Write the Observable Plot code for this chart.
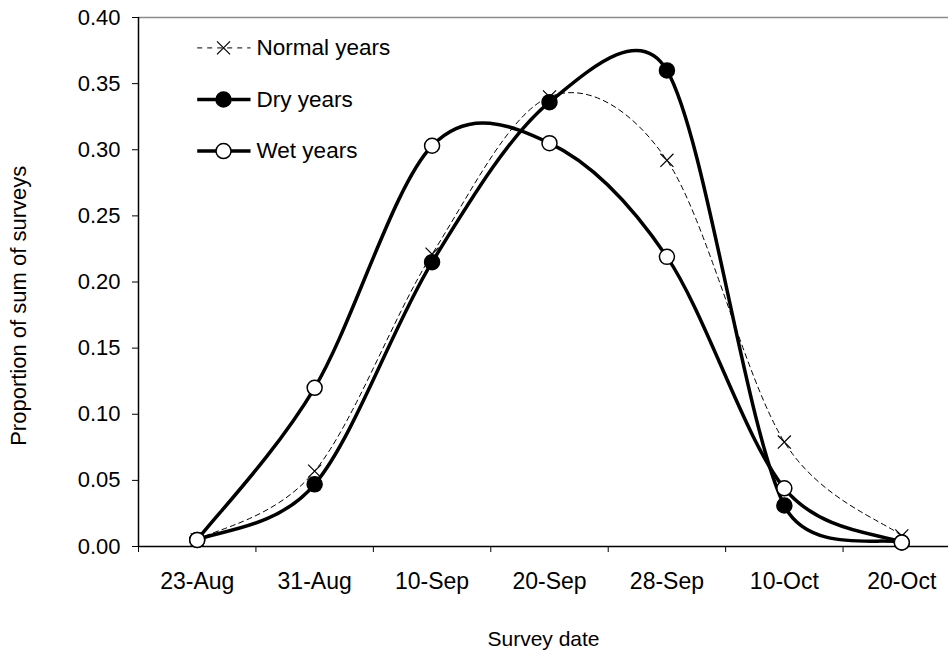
<!DOCTYPE html>
<html><head><meta charset="utf-8">
<script src="https://cdn.jsdelivr.net/npm/d3@7"></script>
<script src="https://cdn.jsdelivr.net/npm/@observablehq/plot@0.6"></script>
<style>body{margin:0;background:#fff}</style>
</head><body><div id="chart"></div>
<script>
const dates = ["23-Aug","31-Aug","10-Sep","20-Sep","28-Sep","10-Oct","20-Oct"];
const normal = [0.005, 0.057, 0.221, 0.340, 0.292, 0.079, 0.008];
const dry    = [0.005, 0.047, 0.215, 0.336, 0.360, 0.031, 0.003];
const wet    = [0.005, 0.120, 0.303, 0.305, 0.219, 0.044, 0.003];
const seriesNames = ["Normal years", "Dry years", "Wet years"];
const yTicks = [0, 0.05, 0.10, 0.15, 0.20, 0.25, 0.30, 0.35, 0.40];

const rows = (vals) => vals.map((v, i) => ({i, v}));
const nRows = rows(normal), dRows = rows(dry), wRows = rows(wet);

const FONT = "'Liberation Sans', Arial, Helvetica, sans-serif";
// legend / title layout (in axis units)
const lx0 = 0, lx1 = 0.454, lxm = 0.224, ltx = 0.505;
const ly = [0.377, 0.338, 0.299];
const c = (v) => () => v;

// Spreadsheet-style smoothed line: Catmull-Rom (chord/6) control points,
// with the control distance limited to a fraction of the segment length.
function SmoothCurve(context, k) { this._context = context; this._k = k; }
SmoothCurve.prototype = {
  areaStart() {}, areaEnd() {},
  lineStart() { this._pts = []; },
  point(x, y) { this._pts.push([+x, +y]); },
  lineEnd() {
    const p = this._pts, n = p.length, ctx = this._context, k = this._k;
    if (!n) return;
    ctx.moveTo(p[0][0], p[0][1]);
    if (n === 1) return;
    const t = p.map((_, i) => {
      const a = p[Math.max(i - 1, 0)], b = p[Math.min(i + 1, n - 1)];
      const dx = b[0] - a[0], dy = b[1] - a[1], L = Math.hypot(dx, dy) || 1;
      return [dx / L, dy / L, L / 6];
    });
    for (let i = 0; i < n - 1; i++) {
      const a = p[i], b = p[i + 1];
      const L = Math.hypot(b[0] - a[0], b[1] - a[1]);
      const d1 = Math.min(t[i][2], k * L), d2 = Math.min(t[i + 1][2], k * L);
      ctx.bezierCurveTo(
        a[0] + d1 * t[i][0], a[1] + d1 * t[i][1],
        b[0] - d2 * t[i + 1][0], b[1] - d2 * t[i + 1][1],
        b[0], b[1]);
    }
  }
};
const smooth = (context) => new SmoothCurve(context, 0.45);

const legendMarks = [
  Plot.link([0], {x1: c(lx0), x2: c(lx1), y1: c(ly[0]), y2: c(ly[0]), stroke: "black", strokeWidth: 1, strokeDasharray: "5,5"}),
  Plot.dot([0], {x: c(lxm), y: c(ly[0]), symbol: "times", r: 6, stroke: "black", strokeWidth: 1.2}),
  Plot.link([0], {x1: c(lx0), x2: c(lx1), y1: c(ly[1]), y2: c(ly[1]), stroke: "black", strokeWidth: 3.5}),
  Plot.dot([0], {x: c(lxm), y: c(ly[1]), r: 7.5, fill: "black", stroke: "black", strokeWidth: 1.5}),
  Plot.link([0], {x1: c(lx0), x2: c(lx1), y1: c(ly[2]), y2: c(ly[2]), stroke: "black", strokeWidth: 3.5}),
  Plot.dot([0], {x: c(lxm), y: c(ly[2]), r: 7.5, fill: "white", stroke: "black", strokeWidth: 1.5}),
  ...seriesNames.map((name, k) => Plot.text([name], {x: c(ltx), y: c(ly[k]), text: d => d, textAnchor: "start", fontSize: 22.5, fill: "black"}))
];

const chart = Plot.plot({
  width: 948, height: 654,
  marginLeft: 138, marginRight: 0, marginTop: 17, marginBottom: 108,
  style: {fontFamily: FONT, background: "white", color: "black"},
  x: {domain: [-0.5, 6.5], range: [138, 960]},
  y: {domain: [0, 0.4], range: [546, 17]},
  marks: [
    Plot.ruleY([0.4], {stroke: "#8c8c8c", strokeWidth: 1.5}),
    Plot.axisY(yTicks, {tickFormat: d => d.toFixed(2), tickSize: 6, tickPadding: 12, fontSize: 22, label: null}),
    Plot.axisX(d3.range(-0.5, 7, 1), {tickSize: 6, tickFormat: () => "", label: null}),
    Plot.axisX(d3.range(0, 7), {tickSize: 0, tickPadding: 26, tickFormat: i => dates[i], fontSize: 23, label: null}),
    Plot.ruleX([-0.5], {stroke: "black", strokeWidth: 1.5}),
    Plot.ruleY([0], {stroke: "black", strokeWidth: 1.5}),
    Plot.line(nRows, {x: "i", y: "v", curve: smooth, stroke: "black", strokeWidth: 1, strokeDasharray: "5,4"}),
    Plot.dot(nRows, {x: "i", y: "v", symbol: "times", r: 6, stroke: "black", strokeWidth: 1.2}),
    Plot.line(dRows, {x: "i", y: "v", curve: smooth, stroke: "black", strokeWidth: 3.5}),
    Plot.dot(dRows, {x: "i", y: "v", r: 7.5, fill: "black", stroke: "black", strokeWidth: 1.5}),
    Plot.line(wRows, {x: "i", y: "v", curve: smooth, stroke: "black", strokeWidth: 3.5}),
    Plot.dot(wRows, {x: "i", y: "v", r: 7.5, fill: "white", stroke: "black", strokeWidth: 1.5}),
    ...legendMarks,
    Plot.text(["Survey date"], {frameAnchor: "bottom", dy: 99, fontSize: 21, fill: "black"}),
    Plot.text(["Proportion of sum of surveys"], {x: c(-1.522), y: c(0.182), rotate: -90, fontSize: 22, fill: "black"})
  ]
});
document.getElementById("chart").appendChild(chart);
</script>
</body></html>
